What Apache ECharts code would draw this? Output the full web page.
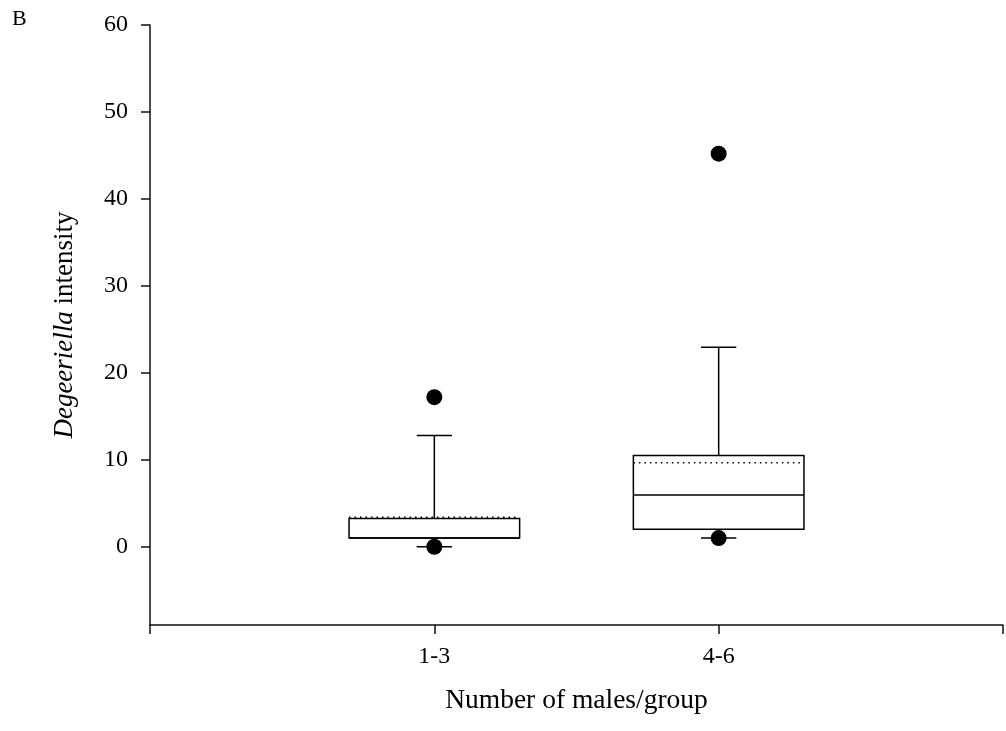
<!DOCTYPE html>
<html>
<head>
<meta charset="utf-8">
<script src="https://cdn.jsdelivr.net/npm/echarts@6/dist/echarts.min.js"></script>
<style>
  html, body { margin: 0; padding: 0; background: #fff; }
  #main { width: 1006px; height: 731px; }
</style>
</head>
<body>
<div id="main"></div>
<script>
// categories sit at x = 1 and 2 on a 0..3 axis
var groupLabels = ['', '1-3', '4-6', ''];
var groupPos = [1, 2];
var lowerWhisker = [0, 1];
var q1 = [1, 2];
var median = [1, 5.95];
var q3 = [3.25, 10.5];
var upperWhisker = [12.8, 22.95];
var mean = [3.4, 9.65];
// outlying points: [group position, value]
var outliers = [[1, 17.2], [1, 0], [2, 45.2], [2, 1]];
var yTicks = [0, 10, 20, 30, 40, 50, 60];

var serif = '"Liberation Serif", "Times New Roman", serif';

window.onload = function () {
  var myChart = echarts.init(document.getElementById('main'));

  var boxData = [];
  for (var i = 0; i < groupPos.length; i++) {
    boxData.push([groupPos[i], lowerWhisker[i], q1[i], median[i], q3[i], upperWhisker[i], mean[i]]);
  }

  function renderBox(params, api) {
    var x = api.value(0);
    var band = api.size([1, 0])[0];
    var halfW = band * 0.3;
    var capW = band * 0.062;
    var pLow = api.coord([x, api.value(1)]);
    var pQ1 = api.coord([x, api.value(2)]);
    var pMed = api.coord([x, api.value(3)]);
    var pQ3 = api.coord([x, api.value(4)]);
    var pUp = api.coord([x, api.value(5)]);
    var pMean = api.coord([x, api.value(6)]);
    var cx = pMed[0];
    var line = { stroke: '#000', lineWidth: 1.5 };
    return {
      type: 'group',
      children: [
        { type: 'line', shape: { x1: cx, y1: pQ3[1], x2: cx, y2: pUp[1] }, style: line },
        { type: 'line', shape: { x1: cx - capW, y1: pUp[1], x2: cx + capW, y2: pUp[1] }, style: line },
        { type: 'line', shape: { x1: cx, y1: pQ1[1], x2: cx, y2: pLow[1] }, style: line },
        { type: 'line', shape: { x1: cx - capW, y1: pLow[1], x2: cx + capW, y2: pLow[1] }, style: line },
        { type: 'rect', shape: { x: cx - halfW, y: pQ3[1], width: halfW * 2, height: pQ1[1] - pQ3[1] },
          style: { fill: '#fff', stroke: '#000', lineWidth: 1.5 } },
        { type: 'line', shape: { x1: cx - halfW, y1: pMed[1], x2: cx + halfW, y2: pMed[1] }, style: line },
        { type: 'line', shape: { x1: cx - halfW, y1: pMean[1], x2: cx + halfW, y2: pMean[1] },
          style: { stroke: '#000', lineWidth: 1.5, lineDash: [1.5, 4] } }
      ]
    };
  }

  var option = {
    animation: false,
    grid: { left: 150, right: 1, top: 25, bottom: 106 },
    graphic: [{
      type: 'text', left: 12, top: 8,
      style: { text: 'B', font: '22px ' + serif, fill: '#000' }
    }],
    xAxis: {
      type: 'value',
      min: 0, max: 3, interval: 1,
      name: 'Number of males/group',
      nameLocation: 'middle',
      nameGap: 62,
      nameTextStyle: { fontFamily: serif, fontSize: 27.5, color: '#000' },
      splitLine: { show: false },
      axisLine: { onZero: false, lineStyle: { color: '#111', width: 1.5 } },
      axisTick: { show: true, length: 9, lineStyle: { color: '#111', width: 1.5 } },
      axisLabel: {
        margin: 20,
        fontFamily: serif, fontSize: 24, color: '#000',
        formatter: function (v) { return groupLabels[Math.round(v)] || ''; }
      }
    },
    yAxis: {
      type: 'value',
      min: -9, max: 60,
      name: '{i|Degeeriella} intensity',
      nameLocation: 'middle',
      nameRotate: 90,
      nameGap: 72,
      nameTextStyle: {
        fontFamily: serif, fontSize: 27, color: '#000',
        rich: { i: { fontFamily: serif, fontSize: 27, fontStyle: 'italic', color: '#000' } }
      },
      splitLine: { show: false },
      axisLine: { onZero: false, lineStyle: { color: '#111', width: 1.5 } },
      axisTick: { show: true, length: 9, customValues: yTicks, lineStyle: { color: '#111', width: 1.5 } },
      axisLabel: {
        margin: 22, customValues: yTicks,
        fontFamily: serif, fontSize: 24, color: '#000'
      }
    },
    series: [
      {
        type: 'custom',
        renderItem: renderBox,
        encode: { x: 0, y: [1, 2, 3, 4, 5, 6] },
        data: boxData,
        z: 2
      },
      {
        type: 'scatter',
        symbol: 'circle',
        symbolSize: 16,
        itemStyle: { color: '#000', opacity: 1 },
        data: outliers,
        z: 3
      }
    ]
  };
  myChart.setOption(option);
};
</script>
</body>
</html>
